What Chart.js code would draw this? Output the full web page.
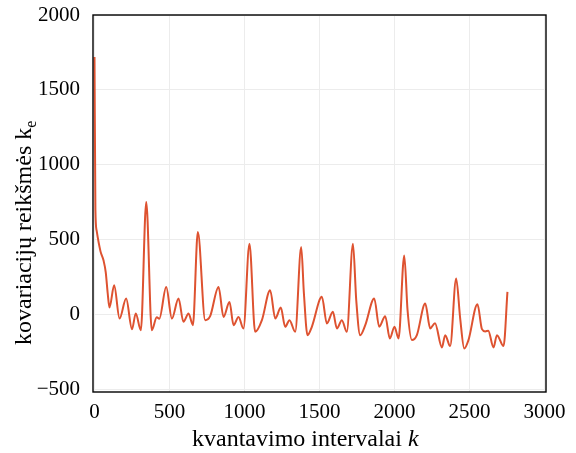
<!DOCTYPE html>
<html>
<head>
<meta charset="utf-8">
<script src="https://cdn.jsdelivr.net/npm/chart.js@4.4.0/dist/chart.umd.min.js"></script>
<style>
  html, body { margin: 0; padding: 0; background: #fff; }
</style>
</head>
<body>
<canvas id="cov" width="576" height="453"></canvas>
<script>
// quantization interval k and covariance value
const kValues = [
  0, 6, 14, 40, 60, 75, 88, 100, 131, 167, 211, 250, 275, 309,
  345, 382, 415, 432, 478, 516, 560, 593, 627, 656,
  689, 738, 771, 827, 860, 900, 927, 960, 993,
  1033, 1071, 1116, 1171, 1205, 1242, 1271, 1300, 1338,
  1378, 1396, 1420, 1449, 1516, 1549, 1589, 1616, 1649, 1682,
  1723, 1745, 1771, 1805, 1865, 1898, 1938, 1969, 2000, 2027,
  2065, 2087, 2116, 2149, 2205, 2238, 2270, 2316, 2338, 2371,
  2411, 2438, 2465, 2493, 2553, 2583, 2605, 2625, 2660, 2683, 2727, 2753
];
const covValues = [
  1720, 700, 560, 420, 360, 280, 140, 45, 193, -29, 105, -100, 5, -107,
  750, -107, -20, -30, 182, -29, 105, -51, 4, -73,
  549, -40, -13, 182, -18, 82, -73, -18, -95,
  471, -118, -40, 160, -29, 44, -84, -40, -118,
  449, 140, -140, -84, 116, -62, 16, -95, -40, -118,
  471, 93, -140, -73, 105, -84, -13, -162, -84, -162,
  393, 27, -173, -140, 71, -95, -60, -222, -140, -213,
  238, -29, -229, -173, 67, -100, -115, -110, -222, -140, -213, 149
];
const xTicks = [0, 500, 1000, 1500, 2000, 2500, 3000];
const yTicks = [-500, 0, 500, 1000, 1500, 2000];

const serif = "'Liberation Serif', 'DejaVu Serif', serif";

// frame around the plot + axis titles with italic k and subscript e
const frameAndTitles = {
  id: "frameAndTitles",
  afterDraw(chart) {
    const { ctx, chartArea: a } = chart;
    ctx.save();
    ctx.strokeStyle = "#000";
    ctx.lineWidth = 1.4;
    ctx.strokeRect(a.left, a.top, a.right - a.left, a.bottom - a.top);

    ctx.fillStyle = "#000";
    ctx.textBaseline = "alphabetic";
    ctx.textAlign = "left";

    // x title
    const xPlain = "kvantavimo intervalai ";
    ctx.font = "24px " + serif;
    const w1 = ctx.measureText(xPlain).width;
    const x0 = 192;
    ctx.fillText(xPlain, x0, 446);
    ctx.font = "italic 24px " + serif;
    ctx.fillText("k", x0 + w1, 446);

    // y title (rotated, reads bottom to top)
    const yPlain = "kovariacijų reikšmės k";
    ctx.font = "24px " + serif;
    const w3 = ctx.measureText(yPlain).width;
    ctx.translate(31, 345);
    ctx.rotate(-Math.PI / 2);
    ctx.fillText(yPlain, 0, 0);
    ctx.font = "16px " + serif;
    ctx.fillText("e", w3, 5);
    ctx.restore();
  }
};

const ctx = document.getElementById("cov").getContext("2d");
const covChart = new Chart(ctx, {
  type: "line",
  data: {
    datasets: [
      {
        data: kValues.map((k, i) => ({ x: k, y: covValues[i] })),
        borderColor: "rgb(222, 82, 48)",
        borderWidth: 2,
        pointRadius: 0,
        cubicInterpolationMode: "monotone",
        fill: false,
      },
    ],
  },
  options: {
    responsive: false,
    animation: false,
    devicePixelRatio: 1,
    layout: { padding: { top: 15, right: 30, left: 0, bottom: 0 } },
    plugins: {
      legend: { display: false },
      tooltip: { enabled: false },
    },
    scales: {
      x: {
        type: "linear",
        min: -10,
        max: 3010,
        afterBuildTicks: (s) => { s.ticks = xTicks.map((v) => ({ value: v })); },
        afterFit: (s) => { s.height = 61; s.paddingLeft = 0; s.paddingRight = 0; },
        grid: { color: "#ececec", drawTicks: false },
        border: { display: false },
        ticks: {
          padding: 8,
          color: "#000",
          font: { family: serif, size: 21 },
          maxRotation: 0,
          callback: (v) => String(v),
        },
      },
      y: {
        type: "linear",
        min: -520,
        max: 2000,
        afterBuildTicks: (s) => { s.ticks = yTicks.map((v) => ({ value: v })); },
        afterFit: (s) => { s.width = 93; s.paddingTop = 0; s.paddingBottom = 0; },
        grid: { color: "#ececec", drawTicks: false },
        border: { display: false },
        ticks: {
          padding: 13,
          color: "#000",
          font: { family: serif, size: 21 },
          callback: (v) => String(v).replace("-", "\u2212"),
        },
      },
    },
  },
  plugins: [frameAndTitles],
});
</script>
</body>
</html>
